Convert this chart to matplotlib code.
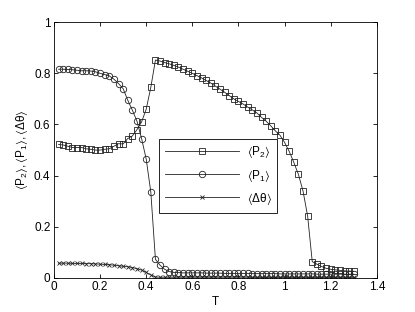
import numpy as np
import matplotlib
matplotlib.use("Agg")
import matplotlib.pyplot as plt

plt.rcParams["font.family"] = ["Liberation Sans", "DejaVu Sans"]
plt.rcParams["mathtext.default"] = "regular"
plt.rcParams["font.size"] = 8.5

# temperature grid, 0.02 .. 1.30
T = np.round(np.arange(1, 66) * 0.02, 2)

P2 = [0.522, 0.520, 0.515, 0.510, 0.510, 0.510, 0.505, 0.503, 0.500, 0.500,
      0.503, 0.505, 0.515, 0.525, 0.524, 0.545, 0.555, 0.580, 0.610, 0.660,
      0.745, 0.852, 0.848, 0.842, 0.837, 0.831, 0.824, 0.816, 0.808, 0.800,
      0.791, 0.782, 0.772, 0.762, 0.750, 0.738, 0.726, 0.713, 0.700, 0.690,
      0.680, 0.668, 0.657, 0.645, 0.628, 0.613, 0.595, 0.575, 0.558, 0.530,
      0.495, 0.452, 0.405, 0.340, 0.242, 0.064, 0.054, 0.045, 0.038, 0.034,
      0.032, 0.030, 0.028, 0.027, 0.026]

P1 = [0.816, 0.816, 0.815, 0.814, 0.812, 0.810, 0.810, 0.809, 0.806, 0.800,
      0.795, 0.790, 0.777, 0.760, 0.740, 0.695, 0.656, 0.613, 0.545, 0.465,
      0.336, 0.073, 0.050, 0.034, 0.025, 0.022, 0.021, 0.020, 0.020, 0.020,
      0.020, 0.020, 0.019, 0.019, 0.019, 0.019, 0.018, 0.018, 0.018, 0.018,
      0.018, 0.018, 0.017, 0.017, 0.017, 0.017, 0.017, 0.017, 0.016, 0.016,
      0.016, 0.016, 0.016, 0.016, 0.016, 0.016, 0.015, 0.015, 0.015, 0.015,
      0.015, 0.015, 0.015, 0.015, 0.015]

dtheta = [0.058, 0.058, 0.058, 0.057, 0.057, 0.057, 0.056, 0.056, 0.055, 0.054,
          0.053, 0.052, 0.050, 0.048, 0.046, 0.044, 0.041, 0.036, 0.031, 0.022,
          0.012, 0.004] + [0.003] * 43

fig = plt.figure(figsize=(4.15, 3.12), dpi=100)
ax = fig.add_axes([0.130, 0.109, 0.778, 0.820])

kw = dict(color="#222222", linewidth=0.6, markerfacecolor="none",
          markeredgecolor="#222222", markeredgewidth=0.6)
ax.plot(T, P2, marker="s", markersize=4.0, label=r"$\langle P_2\rangle$", **kw)
ax.plot(T, P1, marker="o", markersize=4.6, label=r"$\langle P_1\rangle$", **kw)
ax.plot(T, dtheta, marker="x", markersize=2.6, label=r"$\langle\Delta\theta\rangle$", **kw)

ax.set_xlim(0, 1.4)
ax.set_ylim(0, 1)
ax.set_xticks(np.arange(0, 1.41, 0.2))
ax.set_xticklabels(["0", "0.2", "0.4", "0.6", "0.8", "1", "1.2", "1.4"])
ax.set_yticks(np.arange(0, 1.01, 0.2))
ax.set_yticklabels(["0", "0.2", "0.4", "0.6", "0.8", "1"])
ax.tick_params(direction="in", length=3, width=0.6, top=True, right=True,
               labelsize=8.5, pad=2.5)
for s in ax.spines.values():
    s.set_linewidth(0.6)

ax.set_xlabel("T", fontsize=8.5, labelpad=2)
ax.set_ylabel(r"$\langle P_2\rangle, \langle P_1\rangle, \langle\Delta\theta\rangle$",
              fontsize=8.5, labelpad=3)

leg = ax.legend(loc="upper left", bbox_to_anchor=(0.326, 0.545), numpoints=1,
                handlelength=6.3, handletextpad=0.6, fancybox=False,
                edgecolor="black", framealpha=1, borderpad=0.5,
                labelspacing=0.6, fontsize=8.5, borderaxespad=0)
leg.get_frame().set_linewidth(0.6)

fig.savefig("out.png", dpi=100)
